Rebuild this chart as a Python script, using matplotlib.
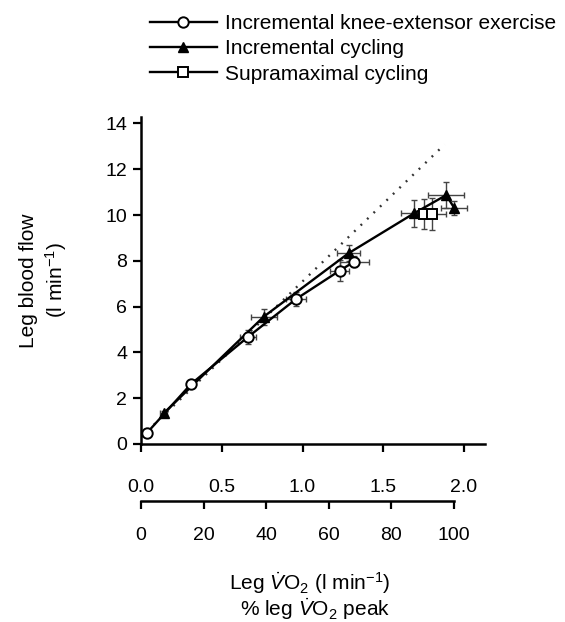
import matplotlib
matplotlib.use("Agg")
import matplotlib.pyplot as plt
from matplotlib.lines import Line2D

plt.rcParams["font.family"] = ["Liberation Sans", "DejaVu Sans"]
plt.rcParams["mathtext.fontset"] = "custom"
plt.rcParams["mathtext.rm"] = "Liberation Sans"
plt.rcParams["mathtext.it"] = "Liberation Sans:italic"

# Incremental knee-extensor exercise (open circles)
knee_x = [0.035, 0.31, 0.66, 0.96, 1.23, 1.32]
knee_y = [0.47, 2.62, 4.66, 6.33, 7.57, 7.96]
knee_xerr = [0.01, 0.02, 0.05, 0.06, 0.06, 0.09]
knee_yerr = [0.05, 0.12, 0.30, 0.30, 0.45, 0.25]

# Incremental cycling (filled triangles)
cyc_x = [0.14, 0.76, 1.285, 1.69, 1.89, 1.94]
cyc_y = [1.34, 5.56, 8.33, 10.07, 10.87, 10.30]
cyc_xerr = [0.02, 0.08, 0.07, 0.08, 0.11, 0.08]
cyc_yerr = [0.10, 0.35, 0.35, 0.58, 0.55, 0.30]

# Supramaximal cycling (open squares)
supra_x = [1.75, 1.80]
supra_y = [10.03, 10.03]
supra_xerr = [0.07, 0.09]
supra_yerr = [0.65, 0.70]

# dotted reference line
ref_x = [0.0, 1.88]
ref_y = [0.3, 13.08]

vo2_ticks = [0.0, 0.5, 1.0, 1.5, 2.0]
pct_ticks = [0, 20, 40, 60, 80, 100]
flow_ticks = [0, 2, 4, 6, 8, 10, 12, 14]

W, H = 565, 622
fig = plt.figure(figsize=(W / 100, H / 100), dpi=100)

# main axes: x 0 -> 141px, 2.0 -> 464px ; y 0 -> 444px, 14 -> 123px
x0, xmax = 141, 2.13
pxu = 161.5
y0, ymax = 444, 14.3
pyu = 22.9
ax = fig.add_axes([x0 / W, (H - y0) / H, xmax * pxu / W, ymax * pyu / H])

ax.plot(ref_x, ref_y, color="#333333", lw=1.7, linestyle=(0, (0.8, 3.0)), zorder=1)

eb = dict(ecolor="#444444", elinewidth=1.0, capsize=2.5, capthick=1.0, zorder=2)
ax.errorbar(knee_x, knee_y, xerr=knee_xerr, yerr=knee_yerr, fmt="none", **eb)
ax.errorbar(cyc_x, cyc_y, xerr=cyc_xerr, yerr=cyc_yerr, fmt="none", **eb)
ax.errorbar(supra_x, supra_y, xerr=supra_xerr, yerr=supra_yerr, fmt="none", **eb)

ax.plot(knee_x, knee_y, "-o", color="black", lw=1.7, ms=7.5, mfc="white",
        mec="black", mew=1.4, zorder=4)
ax.plot(cyc_x, cyc_y, "-^", color="black", lw=1.7, ms=7.5, mfc="black",
        mec="black", zorder=3)
ax.plot(supra_x, supra_y, "-s", color="black", lw=1.7, ms=7, mfc="white",
        mec="black", mew=1.4, zorder=5)

ax.set_xlim(0, xmax)
ax.set_ylim(0, ymax)
ax.set_xticks(vo2_ticks)
ax.set_xticklabels([f"{v:.1f}" for v in vo2_ticks])
ax.set_yticks(flow_ticks)
for s in ["top", "right"]:
    ax.spines[s].set_visible(False)
for s in ["left", "bottom"]:
    ax.spines[s].set_linewidth(1.8)
ax.tick_params(axis="both", direction="out", length=6, width=1.6, labelsize=14)
ax.tick_params(axis="x", pad=19)
ax.tick_params(axis="y", pad=4)
ax.set_ylabel("Leg blood flow\n(l min$^{-1}$)", fontsize=15, linespacing=1.25, labelpad=26)

# second axis: % leg VO2 peak, 0 -> 141px, 100 -> 454px, at y=501px
ax2 = fig.add_axes([x0 / W, (H - 501) / H, (454 - x0) / W, 0.0001])
ax2.set_xlim(0, 100)
ax2.set_xticks(pct_ticks)
ax2.set_yticks([])
for s in ["top", "right", "left"]:
    ax2.spines[s].set_visible(False)
ax2.spines["bottom"].set_linewidth(1.8)
ax2.patch.set_visible(False)
ax2.tick_params(axis="x", direction="out", length=6, width=1.6, labelsize=14, pad=13)

fig.text(310 / W, 1 - 583 / H, "Leg $\\dot{V}$O$_2$ (l min$^{-1}$)", fontsize=15,
         ha="center", va="center")
fig.text(315 / W, 1 - 609 / H, "% leg $\\dot{V}$O$_2$ peak", fontsize=15,
         ha="center", va="center")

handles = [
    Line2D([], [], color="black", lw=1.7, marker="o", ms=7.5, mfc="white", mew=1.4),
    Line2D([], [], color="black", lw=1.7, marker="^", ms=7.5, mfc="black"),
    Line2D([], [], color="black", lw=1.7, marker="s", ms=7, mfc="white", mew=1.4),
]
labels = ["Incremental knee-extensor exercise", "Incremental cycling",
          "Supramaximal cycling"]
fig.legend(handles, labels, loc="upper left", bbox_to_anchor=(150 / W, 1 - 14 / H),
           frameon=False, fontsize=15, handlelength=3.2, handletextpad=0.4,
           labelspacing=0.3, borderpad=0, borderaxespad=0)

fig.savefig("out.png", dpi=100)
